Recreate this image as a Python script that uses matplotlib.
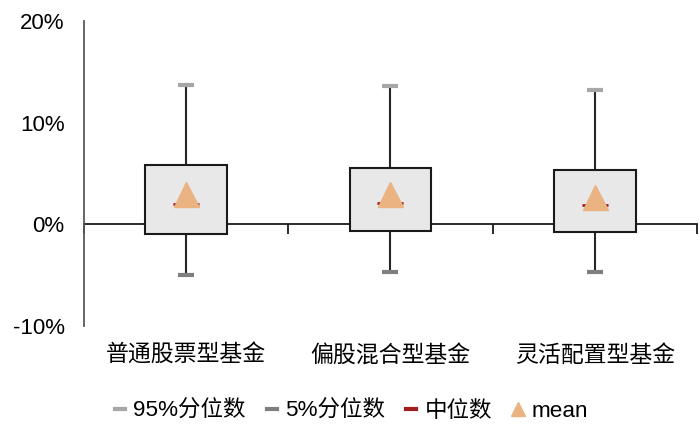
import matplotlib
matplotlib.use("Agg")
import matplotlib.pyplot as plt
from matplotlib.lines import Line2D
from matplotlib.ticker import FuncFormatter
import numpy as np

plt.rcParams['font.family'] = ['Liberation Sans', 'Noto Sans CJK SC', 'DejaVu Sans']

categories = ['普通股票型基金', '偏股混合型基金', '灵活配置型基金']
p95 = [13.7, 13.6, 13.2]
q3 = [5.8, 5.55, 5.35]
median = [2.0, 2.1, 1.95]
mean = [2.95, 2.95, 2.7]
q1 = [-0.95, -0.62, -0.8]
p5 = [-4.95, -4.7, -4.65]
yticks = [-10, 0, 10, 20]
legend_labels = ['95%分位数', '5%分位数', '中位数', 'mean']

c95 = '#a6a6a6'
c5 = '#7f7f7f'
cmed = '#a01d1d'
cmean = '#ebb282'

fig = plt.figure(figsize=(7, 4.45), dpi=100)
ax = fig.add_axes([0.12, 0.2674, 0.8757, 0.6854])

x = np.arange(len(categories))
q1a, q3a = np.array(q1), np.array(q3)

# whiskers
ax.vlines(x, q3a, p95, color='#262626', lw=1.5, zorder=2)
ax.vlines(x, p5, q1a, color='#262626', lw=1.5, zorder=2)
# box
ax.bar(x, q3a - q1a, bottom=q1a, width=0.4, color='#e8e8e8',
       edgecolor='#1a1a1a', linewidth=1.5, zorder=3)
# caps
ax.plot(x, p95, ls='none', marker='_', ms=12, mew=3, color=c95, zorder=4)
ax.plot(x, p5, ls='none', marker='_', ms=12, mew=3, color=c5, zorder=4)
# median
ax.plot(x, median, ls='none', marker='_', ms=18.5, mew=2, color=cmed, zorder=5)
# mean
ax.plot(x, mean, ls='none', marker='^', ms=18, color=cmean, mec=cmean, zorder=6)

ax.set_xlim(-0.5, len(categories) - 0.5)
ax.set_ylim(-10, 20)
ax.set_yticks(yticks)
ax.yaxis.set_major_formatter(FuncFormatter(lambda v, p: f'{v:.0f}%'))
ax.tick_params(axis='y', length=0, pad=14, labelsize=16, colors='black')

ax.set_xticks(x)
ax.set_xticklabels(categories, fontsize=16.5)
ax.tick_params(axis='x', length=0, pad=13)

for s in ['top', 'right', 'bottom']:
    ax.spines[s].set_visible(False)
ax.spines['left'].set_color('#595959')
ax.spines['left'].set_linewidth(1.3)

# zero axis with category-boundary ticks
sec = ax.secondary_xaxis(1 / 3)
sec.set_xticks(np.arange(len(categories) + 1) - 0.5)
sec.set_xticklabels([])
sec.tick_params(axis='x', direction='out', length=7, width=1.3, color='#1a1a1a')
sec.spines['bottom'].set_color('#1a1a1a')
sec.spines['bottom'].set_linewidth(1.3)
sec.spines['top'].set_visible(False)

handles = [
    Line2D([], [], color=c95, lw=3),
    Line2D([], [], color=c5, lw=3),
    Line2D([], [], color=cmed, lw=3),
    Line2D([], [], ls='none', marker='^', ms=10, color=cmean),
]
fig.legend(handles, legend_labels, loc='center', bbox_to_anchor=(0.502, 0.076),
           ncol=4, frameon=False, fontsize=16.2, handlelength=0.45,
           handletextpad=0.35, columnspacing=0.95)

fig.savefig('out.png', dpi=100)
